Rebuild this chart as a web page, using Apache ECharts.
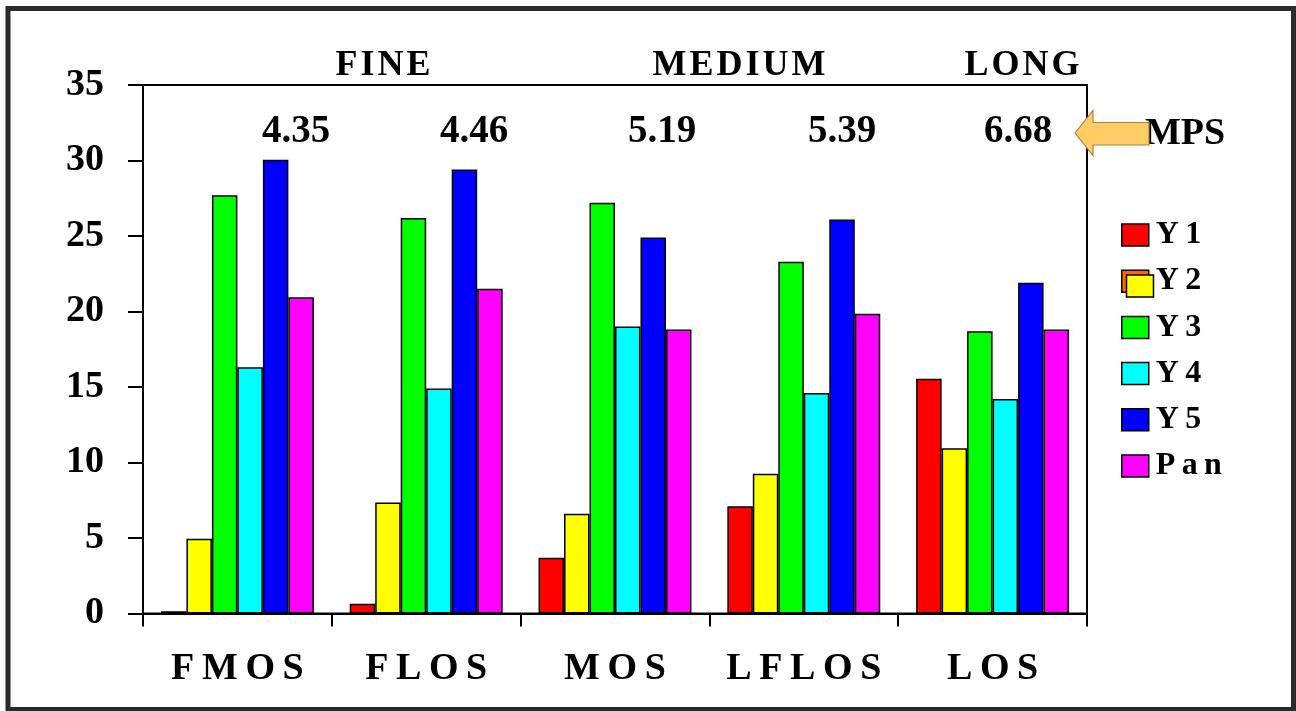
<!DOCTYPE html>
<html>
<head>
<meta charset="utf-8">
<script src="https://cdn.jsdelivr.net/npm/echarts@6/dist/echarts.min.js"></script>
<style>
html,body{margin:0;padding:0;background:#fff;}
#chart{width:1296px;height:711px;}
</style>
</head>
<body>
<div id="chart"></div>
<script>
const categories = ['FMOS', 'FLOS', 'MOS', 'LFLOS', 'LOS'];
const seriesNames = ['Y1', 'Y2', 'Y3', 'Y4', 'Y5', 'Pan'];
const Y1 = [0.15, 0.65, 3.7, 7.1, 15.55];
const Y2 = [4.95, 7.35, 6.6, 9.25, 10.95];
const Y3 = [27.7, 26.2, 27.2, 23.3, 18.7];
const Y4 = [16.3, 14.9, 19.0, 14.6, 14.2];
const Y5 = [30.05, 29.4, 24.9, 26.1, 21.9];
const Pan = [20.95, 21.5, 18.8, 19.85, 18.8];
const yTicks = [0, 5, 10, 15, 20, 25, 30, 35];
const mpsValues = ['4.35', '4.46', '5.19', '5.39', '6.68'];
const groupTitles = ['FINE', 'MEDIUM', 'LONG'];

const colors = ['#FF0000', '#FFFF00', '#00FF00', '#00FFFF', '#0000FF', '#FF00FF'];
const seriesData = [Y1, Y2, Y3, Y4, Y5, Pan];
const FONT = "'Liberation Serif', 'Times New Roman', serif";
const spaced = (s, sp) => s.split('').join(sp);

const chart = echarts.init(document.getElementById('chart'), null, {renderer: 'canvas'});

const series = seriesNames.map((n, i) => ({
  name: n,
  type: 'bar',
  data: seriesData[i],
  barGap: '0%',
  barCategoryGap: '19%',
  itemStyle: {color: colors[i], borderColor: '#000', borderWidth: 1.5},
  emphasis: {disabled: true},
  z: 2
}));

const mpsX = [296, 474, 662, 842, 1018];
const titleX = [383, 739, 1022];

const graphics = [
  {type: 'rect', shape: {x: 8, y: 8.5, width: 1285.5, height: 701}, style: {fill: null, stroke: '#2b2b2b', lineWidth: 5}, z: 0, silent: true}
];
groupTitles.forEach((t, i) => graphics.push({
  type: 'text', x: titleX[i], y: 66,
  style: {text: spaced(t, '\u200A'), font: 'bold 36px ' + FONT, fill: '#000', textAlign: 'center', textVerticalAlign: 'middle'}, z: 10
}));
mpsValues.forEach((t, i) => graphics.push({
  type: 'text', x: mpsX[i], y: 132,
  style: {text: t, font: 'bold 39px ' + FONT, fill: '#000', textAlign: 'center', textVerticalAlign: 'middle'}, z: 10
}));
// arrow pointing left
graphics.push({
  type: 'polygon',
  shape: {points: [[1075, 133], [1093, 110.5], [1093, 122.5], [1149, 122.5], [1149, 145], [1093, 145], [1093, 155.5]]},
  style: {fill: '#FFCC66', stroke: '#B08040', lineWidth: 1.2}, z: 20
});
graphics.push({
  type: 'text', x: 1145, y: 134,
  style: {text: 'MPS', font: 'bold 38px ' + FONT, fill: '#000', textAlign: 'left', textVerticalAlign: 'middle'}, z: 10
});
// Y2 legend icon front square (offset)
graphics.push({
  type: 'rect', shape: {x: 1126.5, y: 275, width: 27, height: 22},
  style: {fill: '#FFFF00', stroke: '#000', lineWidth: 1.5}, z: 30
});

chart.setOption({
  animation: false,
  backgroundColor: '#fff',
  grid: {left: 143, right: 209, top: 85, bottom: 97.5, show: true, borderColor: '#000', borderWidth: 2, backgroundColor: 'transparent'},
  legend: {
    orient: 'vertical', left: 1121, top: 219, padding: 0,
    itemWidth: 27, itemHeight: 22, itemGap: 14.2,
    icon: 'rect',
    selectedMode: false,
    data: seriesNames.map((n, i) => n === 'Y2' ? {name: n, itemStyle: {color: '#FF6600', borderColor: '#000', borderWidth: 1.5}} : {name: n, itemStyle: {borderColor: '#000', borderWidth: 1.5}}),
    formatter: n => spaced(n, '\u2009'),
    textStyle: {fontFamily: FONT, fontWeight: 'bold', fontSize: 32, color: '#000', padding: [0, 0, 0, 2]}
  },
  xAxis: {
    type: 'category', data: categories,
    axisLine: {lineStyle: {color: '#000', width: 2}},
    axisTick: {show: true, interval: 0, length: 13, lineStyle: {color: '#000', width: 2}},
    axisLabel: {interval: 0, hideOverlap: false, margin: 37, fontFamily: FONT, fontWeight: 'bold', fontSize: 38, color: '#000', formatter: v => spaced(v, '\u2009')}
  },
  yAxis: {
    type: 'value', min: 0, max: 35, interval: 5,
    axisLine: {show: true, lineStyle: {color: '#000', width: 2}},
    axisTick: {show: true, length: 15, lineStyle: {color: '#000', width: 2}},
    splitLine: {show: false},
    axisLabel: {margin: 39, fontFamily: FONT, fontWeight: 'bold', fontSize: 38, color: '#000',
      formatter: v => yTicks.includes(v) ? String(v) : ''}
  },
  series: series,
  graphic: graphics
});
</script>
</body>
</html>
